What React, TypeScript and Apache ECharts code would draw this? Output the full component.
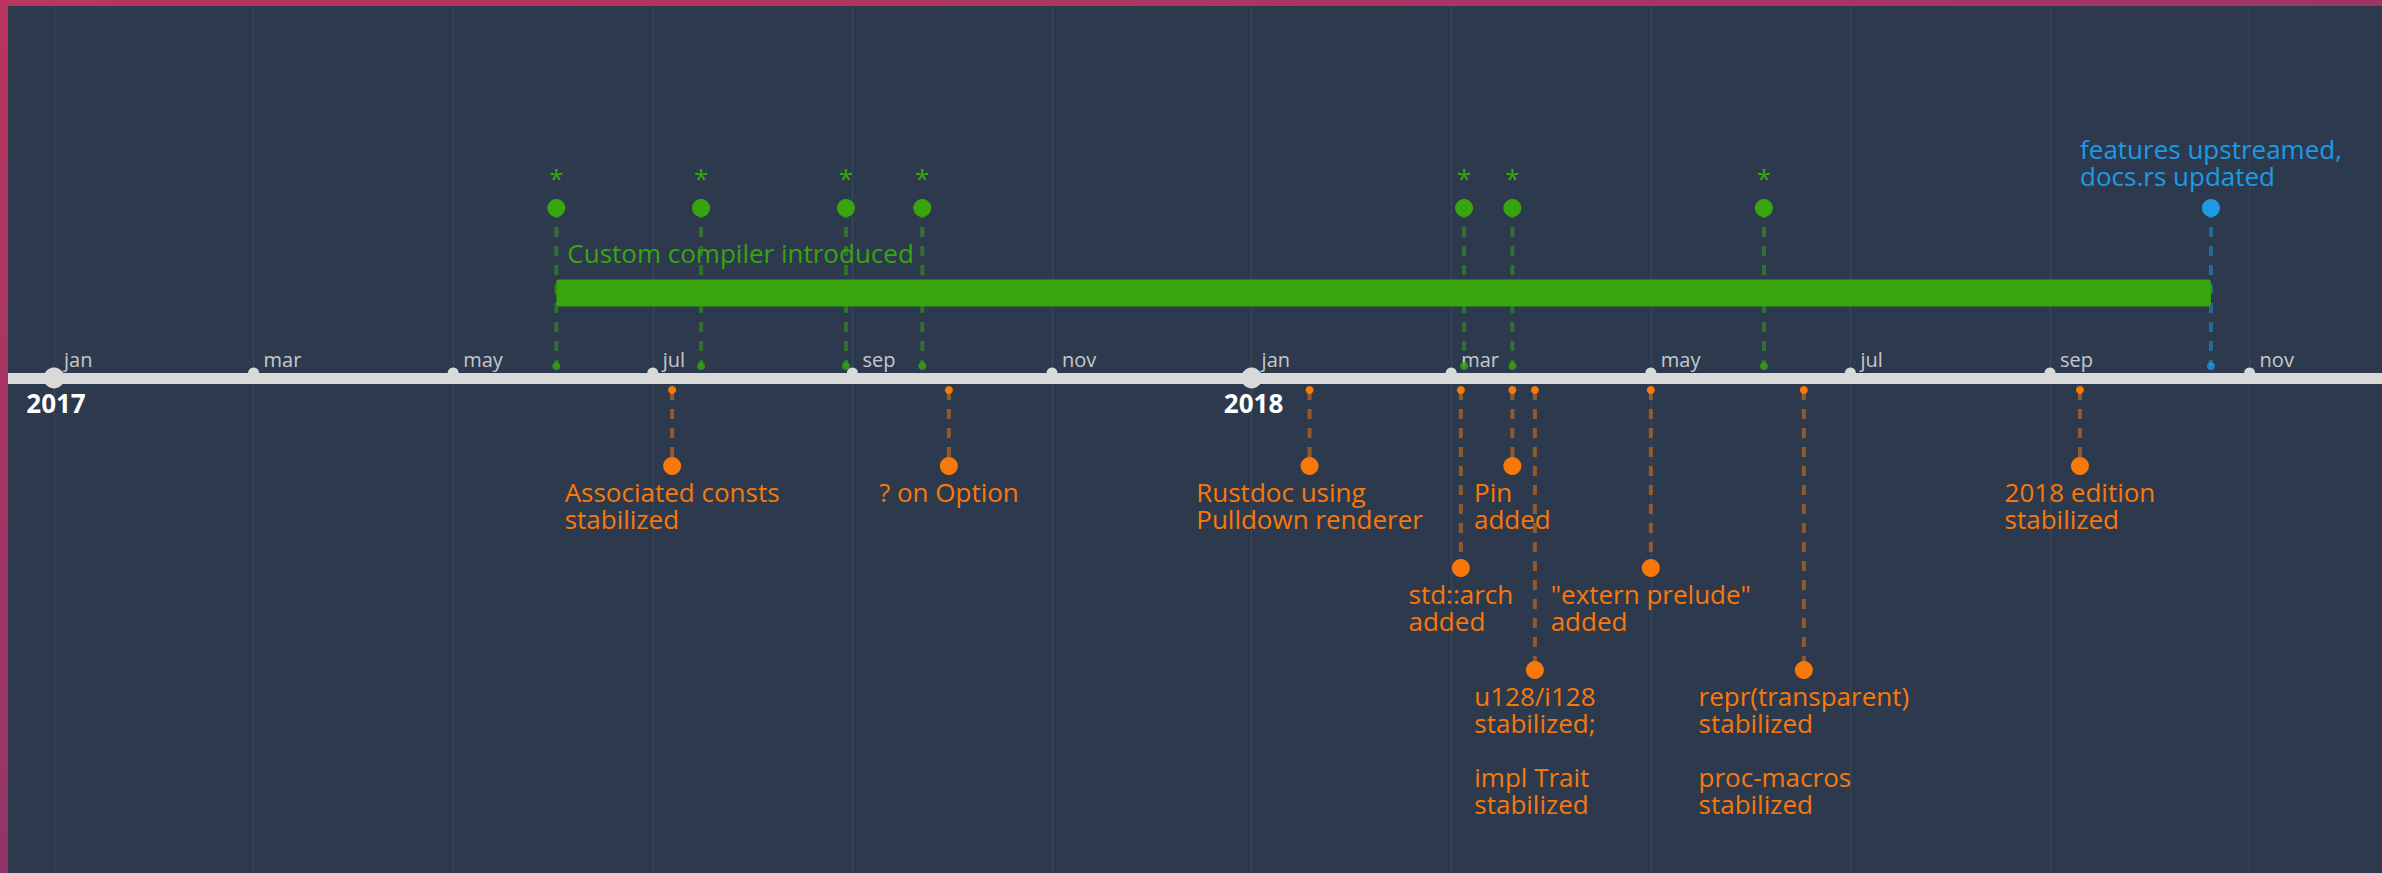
import React, { useEffect, useRef } from "react";
import * as echarts from "echarts";

// ---------- data ----------
const START_YEAR = 2017;
const MONTH_NAMES = ["jan", "feb", "mar", "apr", "may", "jun", "jul", "aug", "sep", "oct", "nov", "dec"];
const AXIS_MIN = -2; // months from Jan 2017
const AXIS_MAX = 24;
const AXIS_TICKS = [0, 2, 4, 6, 8, 10, 12, 14, 16, 18, 20, 22];
const YEAR_TICKS = [0, 12];
const YEAR_LABELS = ["2017", "2018"];

// lanes (vertical positions of the timeline rows)
const LANE_TOP = 170;
const LANE_NEAR_ABOVE = 12;
const LANE_NEAR_BELOW = -12;
const LANE_TICK = 5;
const ORANGE_LANES = [-88, -190, -292];
const BAR_LANE = 85;
const BAR_THICKNESS = 27;

// green milestones above the axis
const GREEN_DATES = ["2017-06-02", "2017-07-16", "2017-08-30", "2017-09-22", "2018-03-05", "2018-03-20", "2018-06-05"];
const GREEN_MARK = "*";

// blue milestone
const BLUE_DATE = "2018-10-20";
const BLUE_LABEL = "features upstreamed,\ndocs.rs updated";

// green period bar
const BAR_START = "2017-06-02";
const BAR_END = "2018-10-20";
const BAR_LABEL = "Custom compiler introduced";

// orange milestones below the axis
const ORANGE_DATES = ["2017-07-07", "2017-09-30", "2018-01-19", "2018-03-04", "2018-03-20", "2018-03-27", "2018-05-01", "2018-06-17", "2018-09-10"];
const ORANGE_LEVELS = [1, 1, 1, 2, 1, 3, 2, 3, 1];
const ORANGE_LABELS = [
  "Associated consts\nstabilized",
  "? on Option",
  "Rustdoc using\nPulldown renderer",
  "std::arch\nadded",
  "Pin\nadded",
  "u128/i128\nstabilized;\n\nimpl Trait\nstabilized",
  "\"extern prelude\"\nadded",
  "repr(transparent)\nstabilized\n\nproc-macros\nstabilized",
  "2018 edition\nstabilized",
];

// ---------- style ----------
const BG = "#2d3a4e";
const GREEN = "#38a50e";
const ORANGE = "#f8780a";
const BLUE = "#1d9ae4";
const STEM_COLORS = ["rgba(56,165,14,0.5)", "rgba(248,120,10,0.5)", "rgba(29,154,228,0.5)"];
const AXIS_COLOR = "#d9d9d9";
const GRID_COLOR = "#3a485b";
const FONT = "Open Sans";

function toMonth(s: string): number {
  const [y, m, d] = s.split("-").map(Number);
  const dim = new Date(y, m, 0).getDate();
  return (y - START_YEAR) * 12 + (m - 1) + (d - 1) / dim;
}

function richLines(text: string): string {
  return text
    .split("\n")
    .map((l) => (l ? `{t|${l}}` : ""))
    .join("\n");
}

export default function App() {
  const ref = useRef<HTMLDivElement>(null);

  useEffect(() => {
    document.body.style.margin = "6px 0 0 8px";
    document.body.style.overflow = "hidden";
    document.body.style.background = "linear-gradient(165deg, #b8355f 0%, #9a3568 50%, #5b2d6b 100%)";
    document.body.style.minHeight = "873px";

    const chart = echarts.init(ref.current!, undefined, { renderer: "svg" });

    const greenX = GREEN_DATES.map(toMonth);
    const blueX = toMonth(BLUE_DATE);
    const orangeX = ORANGE_DATES.map(toMonth);

    const stems: number[][] = [];
    greenX.forEach((x) => stems.push([x, LANE_TOP, LANE_NEAR_ABOVE, 0]));
    stems.push([blueX, LANE_TOP, LANE_NEAR_ABOVE, 2]);
    orangeX.forEach((x, i) => stems.push([x, LANE_NEAR_BELOW, ORANGE_LANES[ORANGE_LEVELS[i] - 1], 1]));

    const labelBase = { fontFamily: FONT, fontSize: 26, lineHeight: 27 };

    const option: any = {
      animation: false,
      backgroundColor: BG,
      textStyle: { fontFamily: FONT },
      grid: {
        left: 46 - 2 * 99.8,
        right: 2374 - (46 + 24 * 99.8),
        top: 0,
        bottom: 0,
        containLabel: false,
        outerBoundsMode: "none",
      },
      xAxis: {
        type: "value",
        min: AXIS_MIN,
        max: AXIS_MAX,
        interval: 2,
        axisLine: { show: true, onZero: true, lineStyle: { color: AXIS_COLOR, width: 11 } },
        axisTick: { show: false },
        splitLine: { show: true, lineStyle: { color: GRID_COLOR, width: 1 } },
        axisLabel: { show: false },
      },
      yAxis: { type: "value", min: -495, max: 372, show: false },
      series: [
        {
          type: "custom",
          name: "stems",
          z: 2,
          data: stems,
          renderItem: (params: any, api: any) => {
            const p1 = api.coord([api.value(0), api.value(1)]);
            const p2 = api.coord([api.value(0), api.value(2)]);
            return {
              type: "line",
              shape: { x1: p1[0], y1: p1[1], x2: p2[0], y2: p2[1] },
              style: { stroke: STEM_COLORS[api.value(3)], lineWidth: 4, lineDash: [10, 9] },
            };
          },
        },
        {
          type: "custom",
          name: "bar",
          z: 3,
          data: [[toMonth(BAR_START), toMonth(BAR_END), BAR_LANE]],
          renderItem: (params: any, api: any) => {
            const a = api.coord([api.value(0), api.value(2)]);
            const b = api.coord([api.value(1), api.value(2)]);
            const h = api.size([0, BAR_THICKNESS])[1];
            return {
              type: "group",
              children: [
                {
                  type: "rect",
                  shape: { x: a[0], y: a[1] - h / 2, width: b[0] - a[0], height: h, r: 3 },
                  style: { fill: GREEN },
                },
                {
                  type: "text",
                  style: {
                    text: BAR_LABEL,
                    x: a[0] + 11,
                    y: a[1] - h / 2 - 27,
                    fill: GREEN,
                    fontSize: 26,
                    fontFamily: FONT,
                    align: "left",
                    verticalAlign: "middle",
                  },
                },
              ],
            };
          },
        },
        {
          type: "scatter",
          name: "month labels",
          z: 4,
          symbolSize: 1,
          itemStyle: { color: "rgba(0,0,0,0)" },
          label: {
            show: true,
            position: "top",
            distance: 8.5,
            align: "left",
            verticalAlign: "bottom",
            offset: [10, 0],
            color: "#eeeeee",
            fontSize: 20,
            lineHeight: 20,
            fontFamily: FONT,
            formatter: (p: any) => MONTH_NAMES[((Math.round(p.value[0]) % 12) + 12) % 12],
          },
          data: AXIS_TICKS.map((t) => [t, 0]),
        },
        {
          type: "scatter",
          name: "axis ticks",
          z: 4,
          symbol: "circle",
          symbolSize: 11,
          itemStyle: { color: AXIS_COLOR, opacity: 1 },
          data: AXIS_TICKS.filter((t) => !YEAR_TICKS.includes(t)).map((t) => [t, LANE_TICK]),
        },
        {
          type: "scatter",
          name: "years",
          z: 4,
          symbol: "circle",
          symbolSize: 21,
          itemStyle: { color: AXIS_COLOR, opacity: 1 },
          label: {
            show: true,
            position: "bottom",
            distance: 1,
            color: "#ffffff",
            fontWeight: "bold",
            fontSize: 26,
            lineHeight: 26,
            fontFamily: FONT,
            offset: [2, 0],
            formatter: (p: any) => YEAR_LABELS[p.dataIndex],
          },
          data: YEAR_TICKS.map((t) => [t, 0]),
        },
        {
          type: "scatter",
          name: "green milestones",
          z: 5,
          symbolSize: 18,
          itemStyle: { color: GREEN, opacity: 1 },
          label: { show: true, position: "top", distance: 8, color: GREEN, ...labelBase, formatter: GREEN_MARK },
          data: greenX.map((x) => [x, LANE_TOP]),
        },
        {
          type: "scatter",
          name: "blue milestone",
          z: 5,
          symbolSize: 18,
          itemStyle: { color: BLUE, opacity: 1 },
          label: {
            show: true,
            position: "top",
            distance: 9.5,
            color: BLUE,
            ...labelBase,
            formatter: richLines(BLUE_LABEL),
            rich: { t: { align: "left", color: BLUE, ...labelBase } },
          },
          data: [[blueX, LANE_TOP]],
        },
        {
          type: "scatter",
          name: "near dots above",
          z: 5,
          symbolSize: 8,
          data: [
            ...greenX.map((x) => ({ value: [x, LANE_NEAR_ABOVE], itemStyle: { color: GREEN } })),
            { value: [blueX, LANE_NEAR_ABOVE], itemStyle: { color: BLUE } },
          ],
        },
        {
          type: "scatter",
          name: "near dots below",
          z: 5,
          symbolSize: 8,
          itemStyle: { color: ORANGE, opacity: 1 },
          data: orangeX.map((x) => [x, LANE_NEAR_BELOW]),
        },
        {
          type: "scatter",
          name: "orange milestones",
          z: 5,
          symbolSize: 18,
          itemStyle: { color: ORANGE, opacity: 1 },
          label: {
            show: true,
            position: "bottom",
            distance: 3.5,
            color: ORANGE,
            ...labelBase,
            formatter: (p: any) => richLines(ORANGE_LABELS[p.dataIndex]),
            rich: { t: { align: "left", color: ORANGE, ...labelBase } },
          },
          data: orangeX.map((x, i) => [x, ORANGE_LANES[ORANGE_LEVELS[i] - 1]]),
        },
      ],
    };

    chart.setOption(option);
    return () => chart.dispose();
  }, []);

  return <div ref={ref} style={{ width: 2374, height: 867 }} />;
}
